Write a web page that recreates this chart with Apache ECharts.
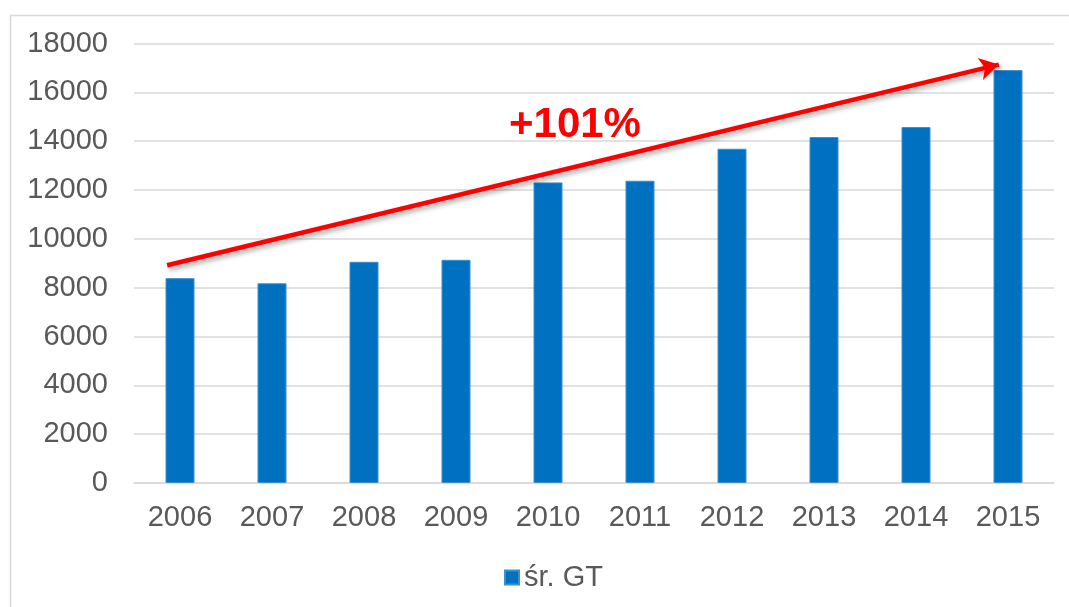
<!DOCTYPE html>
<html>
<head>
<meta charset="utf-8">
<script src="https://cdn.jsdelivr.net/npm/echarts@6/dist/echarts.min.js"></script>
<style>html,body{margin:0;padding:0;background:#fff}#c{width:1069px;height:607px}</style>
</head>
<body>
<div id="c"></div>
<script>
const categories = ['2006','2007','2008','2009','2010','2011','2012','2013','2014','2015'];
const seriesName = 'śr. GT';
const values = [8390, 8180, 9060, 9140, 12310, 12380, 13690, 14170, 14580, 16910];
const yTicks = { min: 0, max: 18000, interval: 2000 };
const arrowStart = [-0.14, 8920];
const arrowEnd = [8.9, 17135];
const annotationText = '+101%';

const FONT = '"Liberation Sans", Arial, sans-serif';
const TXT = '#595959';
const chart = echarts.init(document.getElementById('c'), null, { renderer: 'canvas' });
chart.setOption({
  animation: false,
  backgroundColor: '#fff',
  textStyle: { fontFamily: FONT },
  grid: { left: 134, right: 15, top: 43.5, bottom: 124, containLabel: false },
  xAxis: [
    {
      type: 'category',
      data: categories,
      axisLine: { lineStyle: { color: '#d9d9d9', width: 1.5 } },
      axisTick: { show: false },
      axisLabel: { color: TXT, fontSize: 29, fontFamily: FONT, margin: 20 }
    },
    { type: 'value', min: -0.5, max: 9.5, show: false }
  ],
  yAxis: {
    type: 'value',
    min: yTicks.min, max: yTicks.max, interval: yTicks.interval,
    axisLine: { show: false },
    axisTick: { show: false },
    splitLine: { lineStyle: { color: '#d9d9d9', width: 1.5 } },
    axisLabel: { color: TXT, fontSize: 29, fontFamily: FONT, margin: 26, formatter: v => String(v) }
  },
  legend: {
    data: [seriesName],
    left: 499, top: 558,
    icon: 'rect', itemWidth: 14, itemHeight: 14, itemGap: 10,
    textStyle: { color: TXT, fontSize: 29, fontFamily: FONT }
  },
  series: [
    {
      name: seriesName,
      type: 'bar',
      data: values,
      barWidth: 29,
      itemStyle: { color: '#0070C0', borderColor: '#3d8fd1', borderWidth: 1 }
    },
    {
      name: 'arrow',
      type: 'line',
      xAxisIndex: 1,
      data: [arrowStart, arrowEnd],
      showSymbol: false,
      symbol: 'none',
      silent: true,
      lineStyle: { opacity: 0 },
      markLine: {
        silent: true,
        symbol: ['none', 'arrow'],
        symbolSize: [17, 19],
        label: { show: false },
        lineStyle: {
          color: '#FF0000', width: 4.5, type: 'solid',
          shadowColor: 'rgba(0,0,0,0.35)', shadowBlur: 5, shadowOffsetX: 2, shadowOffsetY: 3
        },
        itemStyle: { color: '#FF0000' },
        data: [[ { coord: arrowStart }, { coord: arrowEnd } ]]
      }
    }
  ],
  graphic: [
    {
      type: 'rect', silent: true, z: -1,
      shape: { x: 10.5, y: 15.5, width: 1080, height: 620 },
      style: { fill: 'none', stroke: '#d9d9d9', lineWidth: 1.5 }
    },
    {
      type: 'text', left: 509, top: 104, silent: true,
      style: { text: annotationText, fill: '#FF0000', font: 'bold 42px ' + FONT }
    }
  ]
});
</script>
</body>
</html>
